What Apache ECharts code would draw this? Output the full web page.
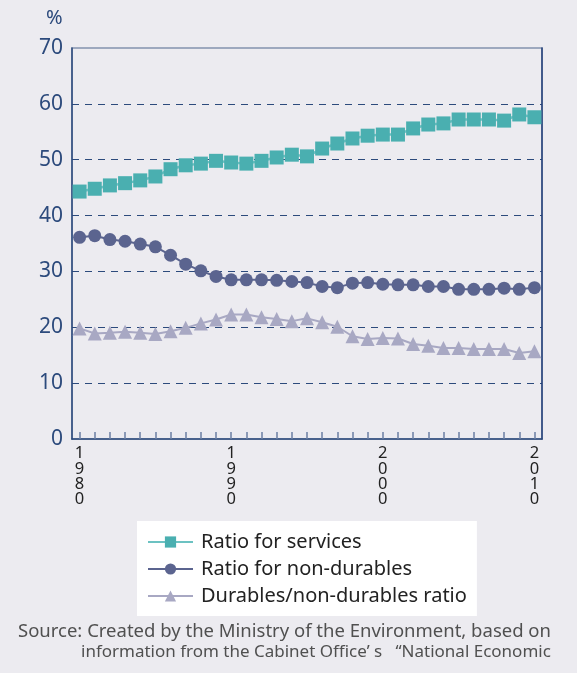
<!DOCTYPE html>
<html>
<head>
<meta charset="utf-8">
<style>
  html, body { margin: 0; padding: 0; background: #ECEBF0; }
  #chart { width: 577px; height: 673px; }
</style>
<script src="https://cdn.jsdelivr.net/npm/echarts@6/dist/echarts.min.js"></script>
</head>
<body>
<div id="chart"></div>
<script>
// Years on the horizontal axis
const years = [];
for (let y = 1980; y <= 2010; y++) years.push(String(y));

// Share of consumption (%)
const services = [44.3, 44.8, 45.4, 45.8, 46.3, 47.0, 48.3, 49.0, 49.3, 49.8,
                  49.5, 49.3, 49.8, 50.4, 50.9, 50.6, 52.0, 52.9, 53.8, 54.3,
                  54.5, 54.5, 55.6, 56.3, 56.5, 57.2, 57.2, 57.2, 57.0, 58.1, 57.6];
const nonDurables = [36.1, 36.4, 35.7, 35.4, 34.9, 34.4, 32.9, 31.3, 30.1, 29.1,
                     28.5, 28.5, 28.5, 28.4, 28.2, 28.0, 27.3, 27.1, 27.9, 28.0,
                     27.7, 27.6, 27.6, 27.3, 27.3, 26.8, 26.8, 26.8, 27.0, 26.8, 27.1];
const durablesRatio = [19.8, 18.9, 19.0, 19.2, 19.0, 18.8, 19.3, 19.9, 20.7, 21.4,
                       22.3, 22.3, 21.8, 21.5, 21.1, 21.6, 20.9, 20.1, 18.4, 17.9,
                       18.1, 18.0, 17.0, 16.7, 16.3, 16.3, 16.1, 16.1, 16.1, 15.4, 15.7];

const seriesNames = ['Ratio for services', 'Ratio for non-durables', 'Durables/non-durables ratio'];
const yTicks = [0, 10, 20, 30, 40, 50, 60, 70];

const FONT = '"Noto Sans", "Open Sans", sans-serif';
const NAVY = '#2c4a7c';

const chart = echarts.init(document.getElementById('chart'), null, { renderer: 'canvas' });

chart.setOption({
  backgroundColor: '#ECEBF0',
  animation: false,
  textStyle: { fontFamily: FONT },
  grid: {
    left: 72, right: 35, top: 48, bottom: 234,
    show: true, backgroundColor: 'transparent',
    borderColor: '#8393ad', borderWidth: 1.5
  },
  legend: {
    orient: 'vertical',
    left: 137, top: 521,
    backgroundColor: '#ffffff',
    padding: [10, 10, 9, 10],
    itemWidth: 45, itemHeight: 14, itemGap: 5,
    data: seriesNames,
    textStyle: { fontSize: 20, color: '#222', lineHeight: 22, fontFamily: FONT, padding: [0, 0, 0, 3] }
  },
  xAxis: {
    type: 'category',
    data: years,
    boundaryGap: true,
    z: 5,
    axisLine: { lineStyle: { color: NAVY, width: 1.5 } },
    axisTick: {
      show: true, inside: true, length: 7, alignWithLabel: true, interval: 0,
      lineStyle: { color: '#6b7fa3', width: 1.5 }
    },
    axisLabel: {
      interval: (idx) => idx % 10 === 0,
      formatter: (v) => v.split('').join('\n'),
      fontSize: 16.5, lineHeight: 15.2, color: '#222', margin: 7, fontFamily: FONT
    },
    splitLine: { show: false }
  },
  yAxis: [{
    type: 'value',
    min: yTicks[0], max: yTicks[yTicks.length - 1], interval: 10,
    axisLine: { show: true, lineStyle: { color: NAVY, width: 1.5 } },
    axisTick: { show: false },
    axisLabel: { fontSize: 21, color: NAVY, margin: 9, fontFamily: FONT },
    splitLine: {
      show: true,
      lineStyle: {
        color: ['transparent', NAVY, NAVY, NAVY, NAVY, NAVY, NAVY, 'transparent'],
        type: [7, 6], width: 1.2
      }
    }
  }, {
    type: 'value', position: 'right',
    min: yTicks[0], max: yTicks[yTicks.length - 1], interval: 10,
    axisLine: { show: true, lineStyle: { color: '#24407a', width: 1.5 } },
    axisTick: { show: false }, axisLabel: { show: false }, splitLine: { show: false }
  }],
  graphic: [
    { type: 'text', left: 46, top: 8, style: { text: '%', fontSize: 20, fill: NAVY, fontFamily: FONT } },
    { type: 'text', left: 18, top: 622, style: { text: 'Source: Created by the Ministry of the Environment, based on', fontSize: 18.5, fill: '#505050', fontFamily: FONT } },
    { type: 'text', left: 81, top: 644, style: { text: 'information from the Cabinet Office\u2019 s   \u201CNational Economic', fontSize: 17, fill: '#505050', fontFamily: FONT } }
  ],
  series: [
    {
      name: seriesNames[0], type: 'line', data: services,
      symbol: 'rect', symbolSize: 14, showAllSymbol: true,
      itemStyle: { color: '#4aafb0' },
      lineStyle: { color: '#6cc2c2', width: 2.5 }
    },
    {
      name: seriesNames[1], type: 'line', data: nonDurables,
      symbol: 'circle', symbolSize: 13, showAllSymbol: true,
      itemStyle: { color: '#5b648f' },
      lineStyle: { color: '#5b648f', width: 2 }
    },
    {
      name: seriesNames[2], type: 'line', data: durablesRatio,
      symbol: 'triangle', symbolSize: 14, showAllSymbol: true,
      itemStyle: { color: '#a8a8c3' },
      lineStyle: { color: '#a8a8c3', width: 2 }
    }
  ]
});
</script>
</body>
</html>
